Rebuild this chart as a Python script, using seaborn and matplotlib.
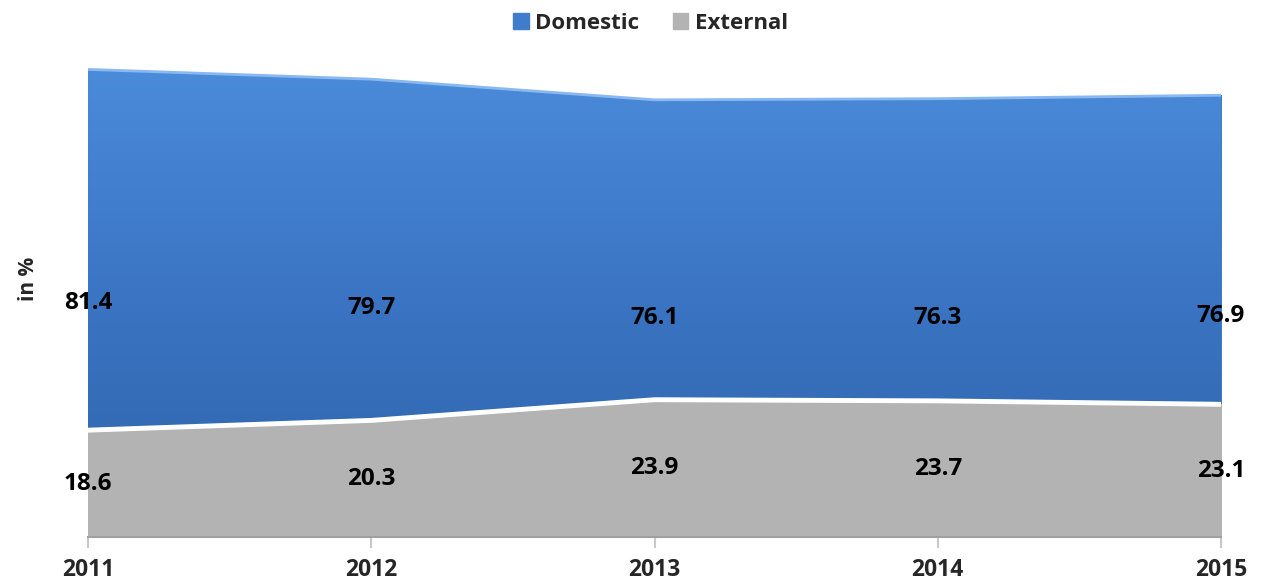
import numpy as np
import matplotlib.pyplot as plt
import matplotlib as mpl
from matplotlib.colors import LinearSegmentedColormap
import seaborn as sns

years = [2011, 2012, 2013, 2014, 2015]
domestic = [81.4, 79.7, 76.1, 76.3, 76.9]
external = [18.6, 20.3, 23.9, 23.7, 23.1]

sns.set_theme(style="white")
plt.rcParams['font.family'] = ['Open Sans', 'DejaVu Sans']

fig = plt.figure(figsize=(12.61, 5.83), dpi=100)
ax = fig.add_axes([0.0698, 0.0789, 0.8985, 0.8868])

# domestic drawn from zero, behind the external series
dom = ax.fill_between(years, 0, domestic, color="#3f7dcc", label="Domestic", zorder=1)
blue_grad = LinearSegmentedColormap.from_list("blue", ["#2f63aa", "#3a74c2", "#4a8bda"])
im = ax.imshow(np.linspace(0, 1, 256).reshape(-1, 1), cmap=blue_grad, origin="lower",
               aspect="auto", extent=[years[0], years[-1], 0, max(domestic)], zorder=1.5)
im.set_clip_path(dom.get_paths()[0], transform=ax.transData)
sns.lineplot(x=years, y=domestic, color="#8ab8f0", lw=2, ax=ax, zorder=2, legend=False)

ext = ax.fill_between(years, 0, external, color="#b3b3b3", label="External", zorder=3)
sns.lineplot(x=years, y=external, color="white", lw=3.5, ax=ax, zorder=4, legend=False)

ax.set_xlim(years[0], years[-1])
ax.set_ylim(0, 90)
ax.set_yticks([])
ax.set_xticks(years)
ax.set_xticklabels([str(y) for y in years], fontsize=16.5, fontweight="bold")
ax.tick_params(axis="x", length=8, width=1.5, color="#c8c8c8", pad=7, bottom=True)
for s in ["top", "right", "left"]:
    ax.spines[s].set_visible(False)
ax.spines["bottom"].set_color("#a0a0a0")
ax.spines["bottom"].set_linewidth(1.5)
ax.spines["bottom"].set_zorder(5)

ax.set_ylabel("in %", fontsize=15, fontweight="bold", labelpad=35)

for i, yr in enumerate(years):
    ax.text(yr, domestic[i] / 2, f"{domestic[i]:.1f}", ha="center", va="center",
            fontsize=17.5, fontweight="bold", color="black", zorder=6)
    ax.text(yr, external[i] / 2, f"{external[i]:.1f}", ha="center", va="center",
            fontsize=17.5, fontweight="bold", color="black", zorder=6)

fig.legend(handles=[dom, ext], labels=["Domestic", "External"], loc="center",
           bbox_to_anchor=(0.516, 0.96), ncol=2, frameon=False,
           prop={"size": 16, "weight": "bold"}, handlelength=0.7, handleheight=0.7,
           handletextpad=0.3, columnspacing=1.5)

fig.savefig("out.png", dpi=100)
